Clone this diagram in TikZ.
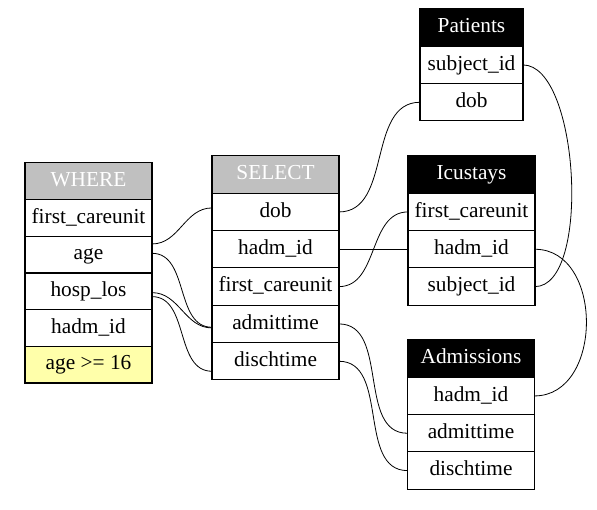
\documentclass[tikz,border=0pt]{standalone}
\usepackage{fontspec}
\setmainfont{Liberation Serif}
\usepackage{tikz}
\usetikzlibrary{positioning}
\definecolor{hdGrey}{HTML}{C0C0C0}
\definecolor{condYel}{HTML}{FFFFAA}
\tikzset{
  cell/.style={draw, line width=0.8pt, minimum height=28pt, inner sep=0pt,
               outer sep=0pt, text height=11pt, text depth=3pt,
               font=\rmfamily\fontsize{16}{19}\selectfont},
  widecell/.style={cell, minimum width=95.25pt},
  narrowcell/.style={cell, minimum width=77.25pt},
  wherecell/.style={widecell, minimum height=27.5pt},
  greyhead/.style={fill=hdGrey, text=white},
  blackhead/.style={fill=black, text=white},
  condcell/.style={fill=condYel},
  wire/.style={line width=0.6pt},
}

\begin{document}
\begin{tikzpicture}[x=0.75pt, y=-0.75pt]
  \useasboundingbox (0,0) rectangle (597,510);
  % WHERE table
  \node[wherecell, greyhead] (where) at (88.5,181.3) {WHERE};
  \node[wherecell, below=0pt of where] (wfirst) {first\_careunit};
  \node[wherecell, below=0pt of wfirst] (wage) {age};
  \node[wherecell, below=0pt of wage] (wlos) {hosp\_los};
  \node[wherecell, below=0pt of wlos] (whadm) {hadm\_id};
  \node[wherecell, condcell, below=0pt of whadm] (wcond) {age >= 16};
  % SELECT table
  \node[widecell, greyhead] (sel) at (275.5,174.6) {SELECT};
  \node[widecell, below=0pt of sel] (sdob) {dob};
  \node[widecell, below=0pt of sdob] (shadm) {hadm\_id};
  \node[widecell, below=0pt of shadm] (sfirst) {first\_careunit};
  \node[widecell, below=0pt of sfirst] (sadmit) {admittime};
  \node[widecell, below=0pt of sadmit] (sdisch) {dischtime};
  % Patients table
  \node[narrowcell, blackhead] (pat) at (471.5,27.6) {Patients};
  \node[narrowcell, below=0pt of pat] (psubj) {subject\_id};
  \node[narrowcell, below=0pt of psubj] (pdob) {dob};
  % Icustays table
  \node[widecell, blackhead] (icu) at (471.5,174.6) {Icustays};
  \node[widecell, below=0pt of icu] (ifirst) {first\_careunit};
  \node[widecell, below=0pt of ifirst] (ihadm) {hadm\_id};
  \node[widecell, below=0pt of ihadm] (isubj) {subject\_id};
  % Admissions table
  \node[widecell, blackhead] (adm) at (471,358.6) {Admissions};
  \node[widecell, below=0pt of adm] (ahadm) {hadm\_id};
  \node[widecell, below=0pt of ahadm] (aadmit) {admittime};
  \node[widecell, below=0pt of aadmit] (adisch) {dischtime};
  % links WHERE -> SELECT
  \draw[wire] ([yshift=8pt]wage.east) to[out=0,in=180] ([yshift=3pt]sdob.west);
  \draw[wire] ([yshift=1pt]wage.east) to[out=0,in=180] ([yshift=-2.5pt]sadmit.west);
  \draw[wire] ([yshift=-1pt]wlos.east) to[out=0,in=180] ([yshift=-3pt]sadmit.west);
  \draw[wire] ([yshift=-4pt]wlos.east) to[out=0,in=180] ([yshift=-7.5pt]sdisch.west);
  % links SELECT -> tables
  \draw[wire] (sdob.east) to[out=0,in=180] (pdob.west);
  \draw[wire] (shadm.east) -- (ihadm.west);
  \draw[wire] (sfirst.east) to[out=0,in=180] (ifirst.west);
  \draw[wire] (sadmit.east) to[out=0,in=180] (aadmit.west);
  \draw[wire] (sdisch.east) to[out=0,in=180] (adisch.west);
  % joins
  \draw[wire] (psubj.east) to[out=0,in=0,looseness=0.65] (isubj.east);
  \draw[wire] (ihadm.east) to[out=0,in=0,looseness=1.2] (ahadm.east);
\end{tikzpicture}
\end{document}
